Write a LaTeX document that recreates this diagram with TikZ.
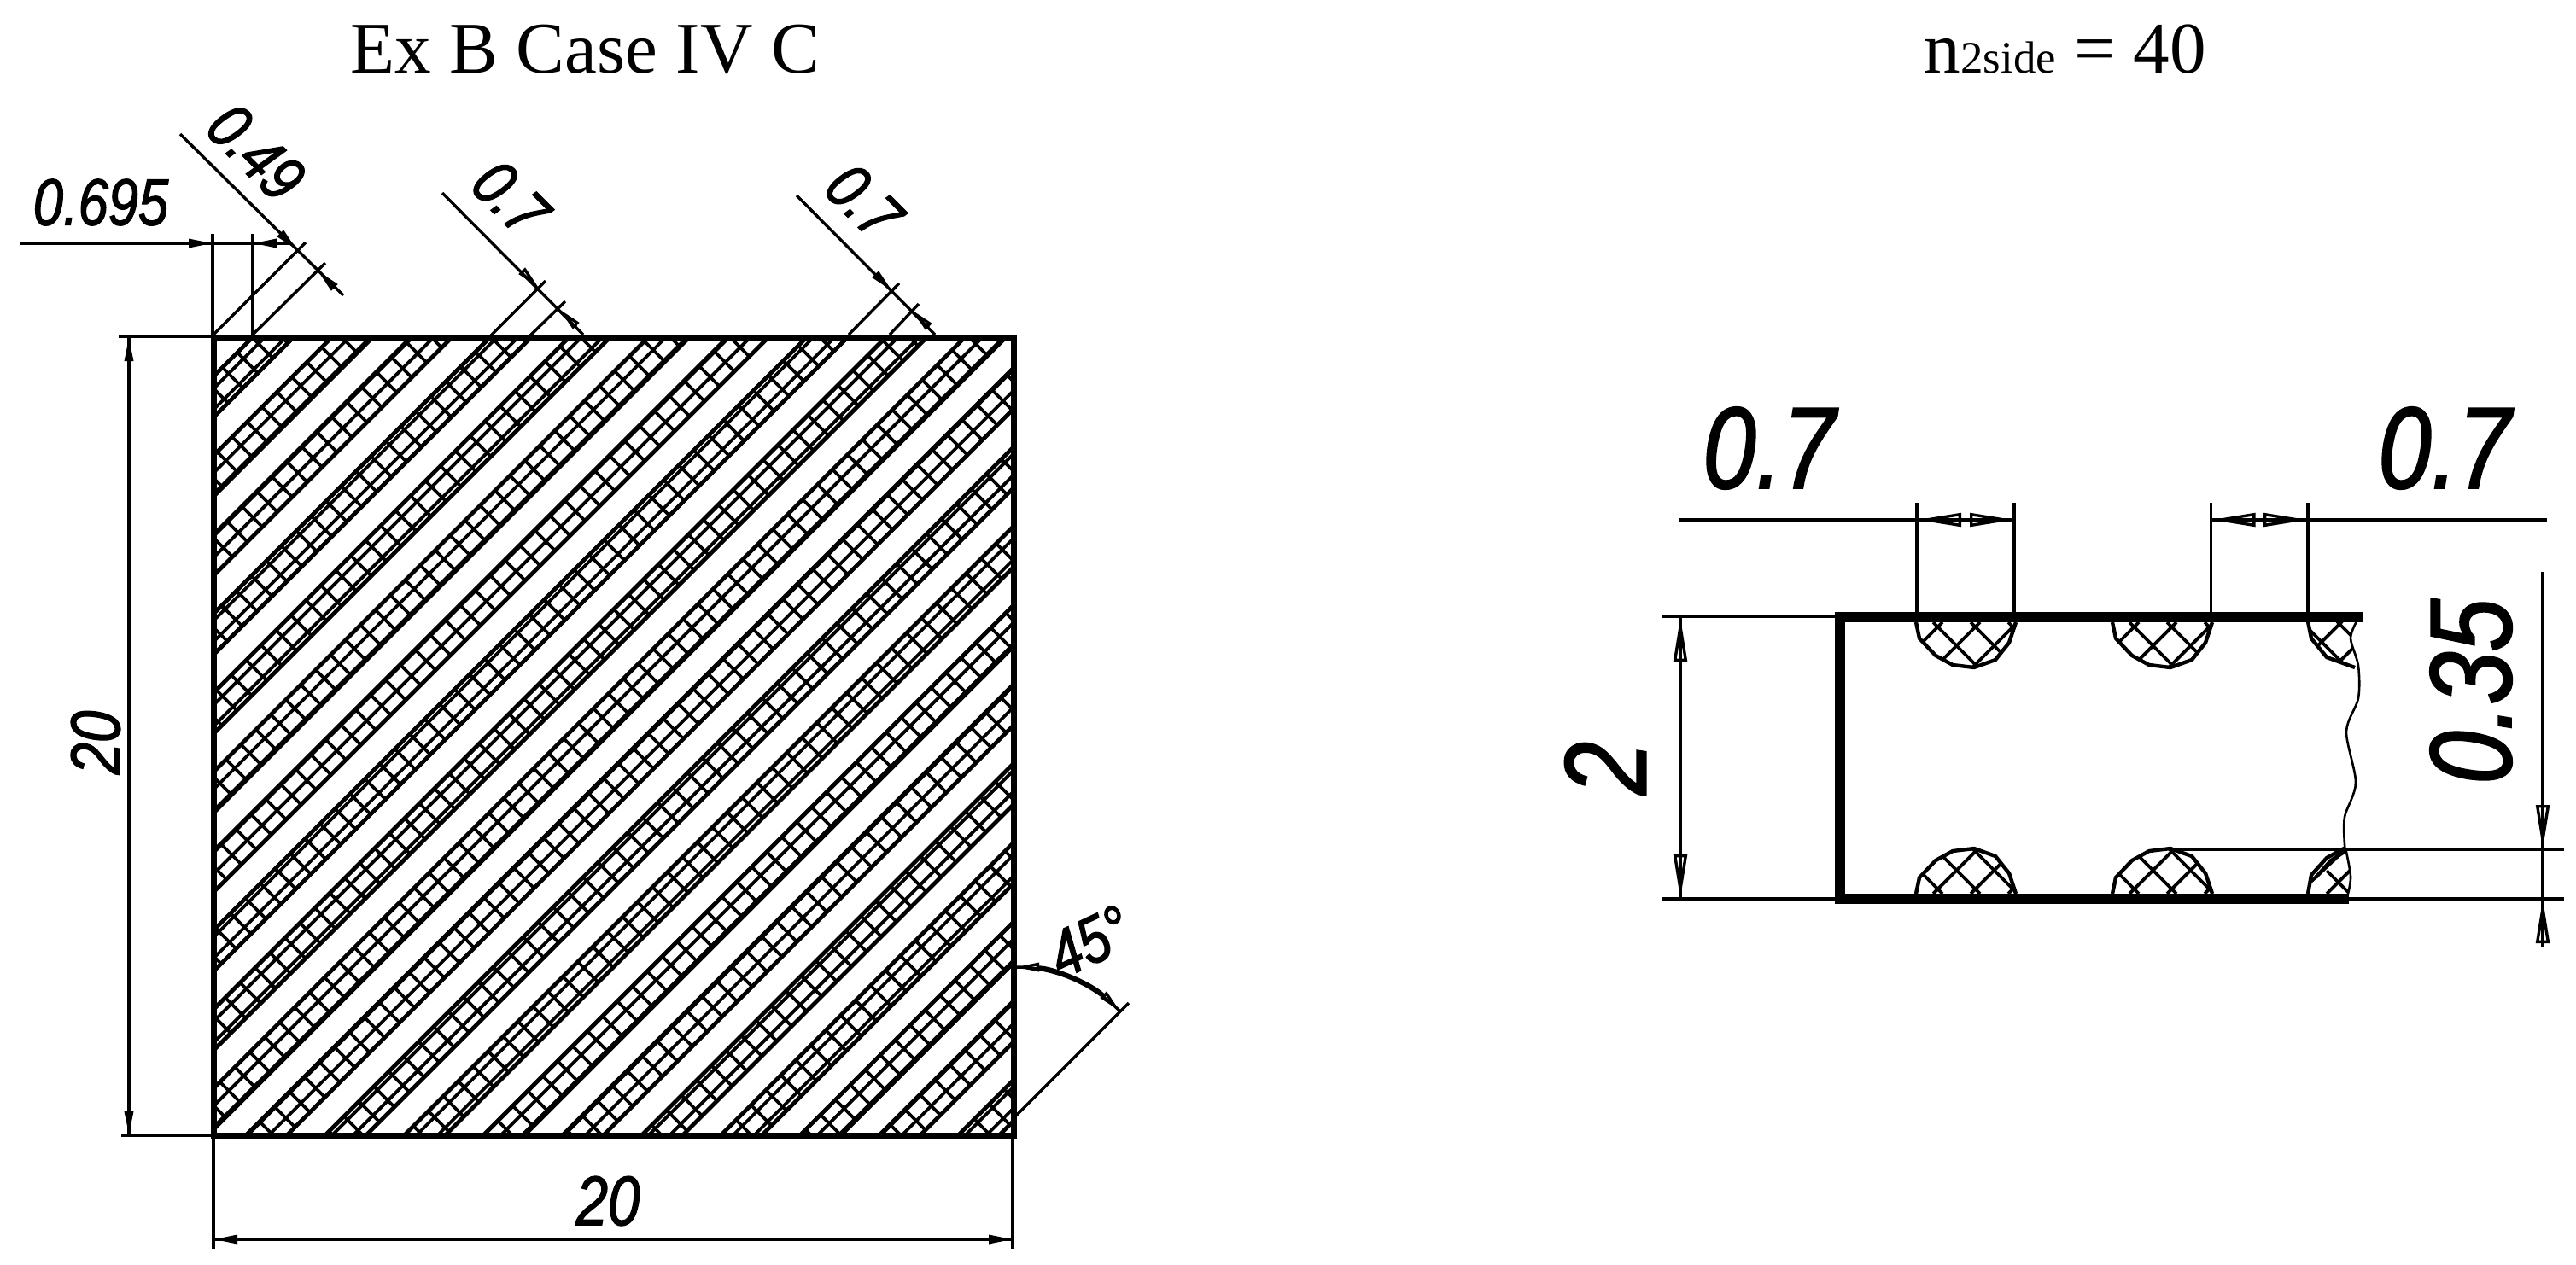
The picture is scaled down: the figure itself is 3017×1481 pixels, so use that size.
\documentclass[tikz,border=0pt]{standalone}
\usepackage{fontspec}
\usepackage{tikz}
\usetikzlibrary{arrows.meta}
\setmainfont{Liberation Serif}
\newfontfamily\dimfont[FakeStretch=0.82,FakeBold=1.5]{Liberation Sans}
\tikzset{
	smalltip/.tip={Triangle[open,length=7pt,width=2.5pt]},
	bigtip/.tip={Triangle[open,length=13pt,width=3.9pt]},
	dimline/.style={line width=0.85pt},
	smalldim/.style={dimline,-{smalltip}},
	bigdim/.style={dimline,-{bigtip}},
	smalldimboth/.style={dimline,{smalltip}-{smalltip},postaction={draw,-}},
	bigdimboth/.style={dimline,{bigtip}-{bigtip},postaction={draw,-}},
	outline/.style={line width=1.75pt},
	heavyline/.style={line width=3pt},
	stripline/.style={line width=1.2pt},
	hatchline/.style={line width=0.95pt},
	ovalline/.style={line width=1.1pt,line join=round},
	breakline/.style={line width=0.65pt},
	titletext/.style={inner sep=0pt,anchor=base west,font=\fontsize{21.3}{24}\selectfont},
	dimtext/.style={inner sep=0pt,font=\dimfont\itshape\fontsize{19.3}{22}\selectfont},
	bigdimtext/.style={inner sep=0pt,font=\dimfont\itshape\fontsize{34}{38}\selectfont},
	ovalcap/.pic={
		\begin{scope}
			\clip (0,0) -- (4,19) -- (23,39) -- (43,50) -- (68,53) -- (93,44) -- (109,24) -- (117,0) -- cycle;
			\foreach \q in {-68,-24,20,64,108}{
				\draw[hatchline] (\q,0) -- ({\q+60},60);
			}
			\foreach \q in {31,75,119,163}{
				\draw[hatchline] (\q,0) -- ({\q-60},60);
			}
		\end{scope}
		\draw[ovalline] (0,0) -- (4,19) -- (23,39) -- (43,50) -- (68,53) -- (93,44) -- (109,24) -- (117,0);
	}
}

\begin{document}
\begin{tikzpicture}[x=0.25pt,y=-0.25pt]
	\useasboundingbox (0,0) rectangle (3017,1481);

	\node[titletext] (titleleft) at (410,85) {Ex B Case IV C};
	\node[titletext] (titleright) at (2253,85) {n{\fontsize{13.2}{15}\selectfont 2side} = 40};

	\begin{scope}
		\clip (250,395) rectangle (1187,1330);
		\foreach \i in {0,1,...,19}{
			\pgfmathsetmacro{\edgeR}{739+92.7*\i}
			\pgfmathsetmacro{\edgeL}{\edgeR-48}
			\draw[stripline]
				({\edgeR-1330},1330) -- ({\edgeR-395},395);
			\draw[stripline]
				({\edgeL-1330},1330) -- ({\edgeL-395},395);
			\pgfmathtruncatemacro{\ka}{ceil((\edgeL-1570.5)/24.72)}
			\pgfmathtruncatemacro{\kb}{floor((\edgeR-1570.5)/24.72)}
			\foreach \k in {\ka,...,\kb}{
				\pgfmathsetmacro{\cc}{1570.5+24.72*\k}
				\draw[hatchline]
					({\cc-1330},1330) -- ({\cc-395},395);
			}
			\foreach \dd in {-1080,-1045,...,792}{
				\draw[hatchline]
					({(\edgeL+\dd)/2},{(\edgeL-\dd)/2}) -- ({(\edgeR+\dd)/2},{(\edgeR-\dd)/2});
			}
		}
	\end{scope}
	\draw[outline] (250,395.5) rectangle (1187,1330);

	\draw[dimline] (23,285) -- (340,285);
	\draw[dimline] (249,274) -- (249,393);
	\draw[dimline] (296,274) -- (296,392);
	\draw[smalldim] (218,285) -- (249,285);
	\draw[smalldim] (325,285) -- (296,285);
	\node[dimtext] (widthstart) at (118,237) {0.695};

	\draw[dimline] (211,157) -- (402,346);
	\draw[dimline] (249,393) -- (358,284);
	\draw[dimline] (296,392) -- (381,308);
	\draw[smalldim] (328,273) -- (348,293);
	\draw[smalldim] (392,337) -- (372,317);
	\node[dimtext,rotate=-45] (stripone) at (300,178) {0.49};

	\draw[dimline] (518,226) -- (683,392);
	\draw[dimline] (575,393) -- (639,329);
	\draw[dimline] (621,393) -- (662,353);
	\draw[smalldim] (611,317) -- (631,337);
	\draw[smalldim] (675,382) -- (655,362);
	\node[dimtext,rotate=-45] (gapone) at (598,232) {0.7};

	\draw[dimline] (933,229) -- (1095,392);
	\draw[dimline] (994,392) -- (1053,332);
	\draw[dimline] (1042,392) -- (1076,356);
	\draw[smalldim] (1025,321) -- (1045,341);
	\draw[smalldim] (1088,383) -- (1068,363);
	\node[dimtext,rotate=-45] (striptwo) at (1012,236) {0.7};

	\draw[dimline] (139,394) -- (249,394);
	\draw[dimline] (142,1330) -- (249,1330);
	\draw[smalldimboth] (151,395) -- (151,1330);
	\node[dimtext,rotate=90,font=\dimfont\itshape\fontsize{20.5}{22}\selectfont] (heightleft) at (112,870) {20};

	\draw[dimline] (250,1333) -- (250,1463);
	\draw[dimline] (1186,1333) -- (1186,1463);
	\draw[smalldimboth] (250,1452) -- (1186,1452);
	\node[dimtext,font=\dimfont\itshape\fontsize{20.5}{22}\selectfont] (widthbottom) at (712,1407) {20};

	\draw[dimline] (1187,1310) -- (1322,1175);
	\draw[smalldimboth] (1189,1133) .. controls (1234,1133) and (1279,1152) .. (1312,1185);
	\node[dimtext,rotate=25] (anglelabel) at (1276,1103) {45°};

	\pic at (2244,729) {ovalcap};
	\pic at (2474,729) {ovalcap};
	\pic[yscale=-1] at (2244,1047) {ovalcap};
	\pic[yscale=-1] at (2474,1047) {ovalcap};

	\begin{scope}
		\clip (2703,728) -- (2707,748) -- (2725,770) -- (2758,782) -- (2762,780) -- (2753,748) -- (2760,728) -- cycle;
		\draw[hatchline] (2737,728) -- (2780,771);
		\draw[hatchline] (2695,728) -- (2750,783);
		\draw[hatchline] (2743,728) -- (2690,781);
		\draw[hatchline] (2787,728) -- (2734,781);
	\end{scope}
	\draw[ovalline] (2703,728) -- (2707,748) -- (2725,770) -- (2758,782);

	\begin{scope}
		\clip (2703,1047) -- (2707,1025) -- (2725,1005) -- (2747,993) -- (2753,1027) -- (2750,1047) -- cycle;
		\draw[hatchline] (2725,1020) -- (2752,1047);
		\draw[hatchline] (2700,1039) -- (2749,993);
		\draw[hatchline] (2725,1047) -- (2770,1002);
	\end{scope}
	\draw[ovalline] (2703,1047) -- (2707,1025) -- (2725,1005) -- (2747,993);
	\draw[ovalline] (2712,1028) -- (2730,1008) -- (2747,997);

	\draw[breakline] plot[smooth,tension=0.5] coordinates {(2760,728) (2753,748) (2762,780) (2762,818) (2748,857) (2759,917) (2746,957) (2746,990) (2748,998) (2753,1027) (2750,1047)};

	\draw[heavyline] (2767,723) -- (2155,723) -- (2155,1053) -- (2751,1053);

	\draw[dimline] (2245,589) -- (2245,717);
	\draw[dimline] (2359,589) -- (2359,717);
	\draw[dimline] (2589.5,589) -- (2589.5,717);
	\draw[dimline] (2703,589) -- (2703,717);
	\draw[dimline] (1966,609) -- (2359,609);
	\draw[bigdim] (2297,609) -- (2245,609);
	\draw[bigdim] (2307,609) -- (2359,609);
	\draw[dimline] (2589.5,609) -- (2983,609);
	\draw[bigdim] (2641,609) -- (2589.5,609);
	\draw[bigdim] (2651,609) -- (2703,609);
	\node[bigdimtext] (pitchleft) at (2072,525) {0.7};
	\node[bigdimtext] (pitchright) at (2863,525) {0.7};

	\draw[dimline] (1946,722) -- (2150,722);
	\draw[dimline] (1946,1053) -- (2155,1053);
	\draw[bigdimboth] (1968,723) -- (1968,1053);
	\node[bigdimtext,rotate=90] (thickness) at (1880,900) {2};

	\draw[dimline] (2548,995) -- (3003,995);
	\draw[dimline] (2751,1053) -- (3003,1053);
	\draw[dimline] (2978,670) -- (2978,1110);
	\draw[bigdim] (2978,943) -- (2978,995);
	\draw[bigdim] (2978,1105) -- (2978,1053);
	\node[bigdimtext,rotate=90] (depth) at (2894,810) {0.35};
\end{tikzpicture}
\end{document}
